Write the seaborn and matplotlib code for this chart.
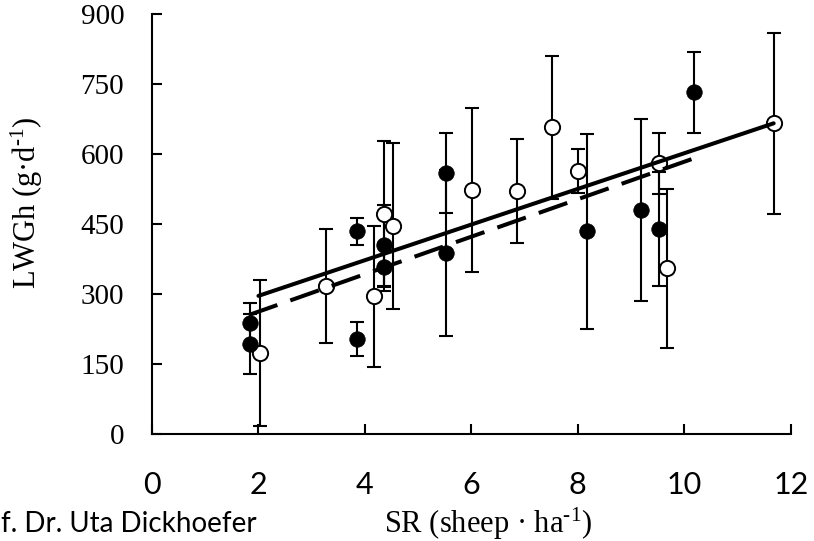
import numpy as np
import pandas as pd
import matplotlib
matplotlib.use("Agg")
import matplotlib.pyplot as plt
import seaborn as sns

# ---- data ----
filled_x = [1.85, 1.85, 3.85, 3.85, 4.36, 4.36, 5.52, 5.52, 8.18, 9.18, 9.52, 10.18]
filled_y = [237, 193, 434, 204, 404, 358, 560, 387, 434, 480, 439, 732]
filled_err = [44, 64, 29, 36, 87, 51, 86, 178, 209, 194, 122, 87]

open_x = [2.02, 3.27, 4.17, 4.36, 4.52, 6.02, 6.85, 7.52, 8.01, 9.52, 9.68, 11.68]
open_y = [173, 317, 295, 471, 446, 523, 521, 657, 564, 580, 355, 666]
open_err = [156, 122, 151, 157, 178, 176, 111, 153, 47, 65, 171, 194]

# regression coefficients (intercept, slope)
open_fit = (219.6, 38.2)
filled_fit = (181.9, 40.15)

x_ticks = [0, 2, 4, 6, 8, 10, 12]
y_ticks = [0, 150, 300, 450, 600, 750, 900]

x_label = r"SR (sheep · ha$^{\text{-}1}$)"
y_label = r"LWGh (g·d$^{\text{-}1}$)"
footer = "f. Dr. Uta Dickhoefer"

# ---- style ----
sns.set_theme(style="white")
plt.rcParams["font.family"] = ["Liberation Serif", "DejaVu Serif"]
plt.rcParams["mathtext.fontset"] = "custom"
plt.rcParams["mathtext.rm"] = "Liberation Serif"
plt.rcParams["mathtext.it"] = "Liberation Serif:italic"
plt.rcParams["mathtext.default"] = "rm"

W, H = 814, 541
fig = plt.figure(figsize=(W / 100, H / 100), dpi=100)
fig.patch.set_facecolor("white")
ax = fig.add_axes([152 / W, 1 - 434 / H, (790.7 - 152) / W, (434 - 14) / H])
ax.set_facecolor("white")

df_f = pd.DataFrame({"x": filled_x, "y": filled_y, "e": filled_err})
df_o = pd.DataFrame({"x": open_x, "y": open_y, "e": open_err})

# error bars
for d in (df_f, df_o):
    ax.errorbar(d["x"], d["y"], yerr=d["e"], fmt="none", ecolor="black",
                elinewidth=1.5, capsize=4.8, capthick=1.5, zorder=2)

# markers
sns.scatterplot(data=df_o, x="x", y="y", ax=ax, marker="o", s=120,
                facecolor="white", edgecolor="black", linewidth=1.4, zorder=3)
sns.scatterplot(data=df_f, x="x", y="y", ax=ax, marker="o", s=125,
                color="black", edgecolor="black", linewidth=0.5, zorder=3)

# regression lines
ox = np.array([min(open_x) - 0.02, max(open_x)])
fx = np.array([min(filled_x) - 0.03, max(filled_x)])
reg_o = pd.DataFrame({"x": ox, "y": open_fit[0] + open_fit[1] * ox})
reg_f = pd.DataFrame({"x": fx, "y": filled_fit[0] + filled_fit[1] * fx})
sns.lineplot(data=reg_o, x="x", y="y", ax=ax, color="black", linewidth=2.9, zorder=4)
sns.lineplot(data=reg_f, x="x", y="y", ax=ax, color="black", linewidth=2.9, zorder=4)
ax.lines[-1].set_dashes((7.5, 3.4))

ax.set_xlim(0, 12)
ax.set_ylim(0, 900)
ax.set_xticks(x_ticks)
ax.set_yticks(y_ticks)
ax.set_xlabel("")
ax.set_ylabel("")

for side in ("top", "right"):
    ax.spines[side].set_visible(False)
for side in ("left", "bottom"):
    ax.spines[side].set_visible(True)
    ax.spines[side].set_color("black")
    ax.spines[side].set_linewidth(1.5)

ax.tick_params(axis="both", direction="in", length=7.5, width=1.5, color="black",
               left=True, bottom=True)
ax.tick_params(axis="x", pad=27, labelsize=22)
ax.tick_params(axis="y", pad=20, labelsize=21)
for lbl in ax.get_xticklabels():
    lbl.set_fontfamily("Lato")
    lbl.set_color("black")
for lbl in ax.get_yticklabels():
    lbl.set_fontfamily("Liberation Serif")
    lbl.set_color("black")

fig.text(488.5 / W, 1 - 533 / H, x_label, ha="center", va="baseline",
         fontsize=22, color="black")
fig.text(27 / W, 1 - 202.5 / H, y_label, ha="center", va="center",
         rotation=90, fontsize=22, color="black")
fig.text(1 / W, 1 - 532 / H, footer, ha="left", va="baseline",
         fontsize=20, family="Lato", color="black")

fig.savefig("out.png", dpi=100, facecolor="white")
